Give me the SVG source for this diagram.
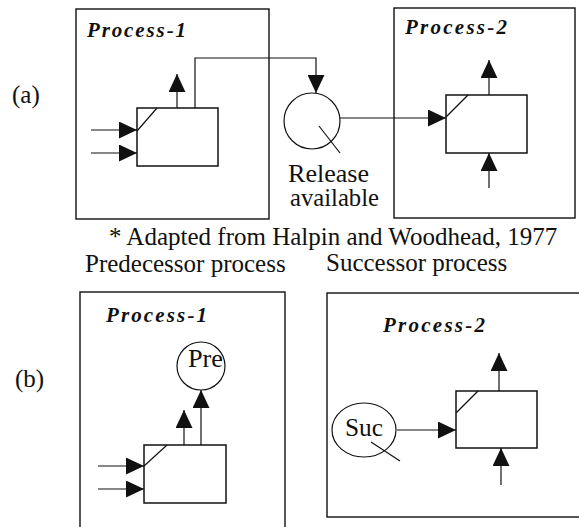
<svg xmlns="http://www.w3.org/2000/svg" width="579" height="527" viewBox="0 0 579 527">
<style>
.frame{fill:none;stroke:#111;stroke-width:1.4}
.act{fill:#fff;stroke:#111;stroke-width:1.5}
.ln{fill:none;stroke:#111;stroke-width:1.2}
.arr{fill:none;stroke:#111;stroke-width:1.2;marker-end:url(#ah)}
.t{font-family:"Liberation Serif","Times New Roman",serif;font-size:25px;fill:#111}
.pl{font-family:"Liberation Serif","Times New Roman",serif;font-size:21px;font-weight:bold;font-style:italic;fill:#111}
</style>
<defs>
<marker id="ah" markerUnits="userSpaceOnUse" markerWidth="18" markerHeight="17" refX="17" refY="8" orient="auto" viewBox="0 0 17 16">
<path d="M0,0 L17,8 L0,16 z" fill="#111"/>
</marker>
</defs>
<rect width="579" height="527" fill="#fff"/>

<text class="t" x="12" y="103">(a)</text>
<text class="t" x="15" y="387">(b)</text>

<!-- (a) -->
<g id="a-process1">
<rect class="frame" x="76" y="9" width="193" height="210"/>
<text class="pl" x="87" y="37" textLength="99" lengthAdjust="spacing">Process-1</text>
</g>
<g id="a-act1">
<rect class="act" x="137" y="108" width="81" height="58"/>
<line class="ln" x1="137" y1="131" x2="157" y2="108"/>
</g>
<g id="a-release">
<circle class="ln" cx="312" cy="121" r="28"/>
<line class="ln" x1="319" y1="126" x2="340" y2="153"/>
<text class="t" x="288" y="182" font-size="23" textLength="81" lengthAdjust="spacingAndGlyphs">Release</text>
<text class="t" x="290" y="206" font-size="23" textLength="89" lengthAdjust="spacingAndGlyphs">available</text>
</g>
<g id="a-process2">
<rect class="frame" x="394" y="8" width="181" height="210"/>
<text class="pl" x="405" y="34" textLength="102" lengthAdjust="spacing">Process-2</text>
</g>
<g id="a-act2">
<rect class="act" x="446" y="95" width="81" height="58"/>
<line class="ln" x1="446" y1="117" x2="468" y2="95"/>
</g>

<text class="t" x="109" y="245">* Adapted from Halpin and Woodhead, 1977</text>
<text class="t" x="85" y="272">Predecessor process</text>
<text class="t" x="326" y="271">Successor process</text>

<!-- (b) -->
<g id="b-process1">
<rect class="frame" x="80" y="292" width="205" height="250"/>
<text class="pl" x="106" y="322" textLength="101" lengthAdjust="spacing">Process-1</text>
</g>
<g id="b-pre">
<circle class="ln" cx="201" cy="366" r="24"/>
<text class="t" x="188" y="367" font-size="24" textLength="35" lengthAdjust="spacingAndGlyphs">Pre</text>
</g>
<g id="b-act1">
<rect class="act" x="144" y="445" width="82" height="58"/>
<line class="ln" x1="144" y1="466" x2="167" y2="445"/>
</g>
<g id="b-process2">
<rect class="frame" x="327" y="293" width="270" height="224"/>
<text class="pl" x="383" y="332" textLength="102" lengthAdjust="spacing">Process-2</text>
</g>
<g id="b-suc">
<ellipse class="ln" cx="364" cy="430" rx="32" ry="27"/>
<line class="ln" x1="371" y1="442" x2="400" y2="461"/>
<text class="t" x="345" y="436" font-size="24" textLength="38" lengthAdjust="spacingAndGlyphs">Suc</text>
</g>
<g id="b-act2">
<rect class="act" x="456" y="391" width="81" height="57"/>
<line class="ln" x1="456" y1="413" x2="478" y2="391"/>
</g>

<g id="connectors">
<line class="arr" x1="91" y1="130" x2="137" y2="130"/>
<line class="arr" x1="91" y1="153" x2="137" y2="153"/>
<line class="arr" x1="177" y1="108" x2="177" y2="74"/>
<path class="arr" d="M195,108 V58 H316 V93"/>
<line class="arr" x1="340" y1="118" x2="446" y2="118"/>
<line class="arr" x1="489" y1="95" x2="489" y2="60"/>
<line class="arr" x1="489" y1="188" x2="489" y2="153"/>
<line class="arr" x1="98" y1="466" x2="144" y2="466"/>
<line class="arr" x1="98" y1="489" x2="144" y2="489"/>
<line class="arr" x1="184" y1="445" x2="184" y2="410"/>
<line class="arr" x1="201" y1="445" x2="201" y2="390"/>
<line class="arr" x1="397" y1="430" x2="456" y2="430"/>
<line class="arr" x1="499" y1="391" x2="499" y2="353"/>
<line class="arr" x1="501" y1="485" x2="501" y2="448"/>
</g>
</svg>
